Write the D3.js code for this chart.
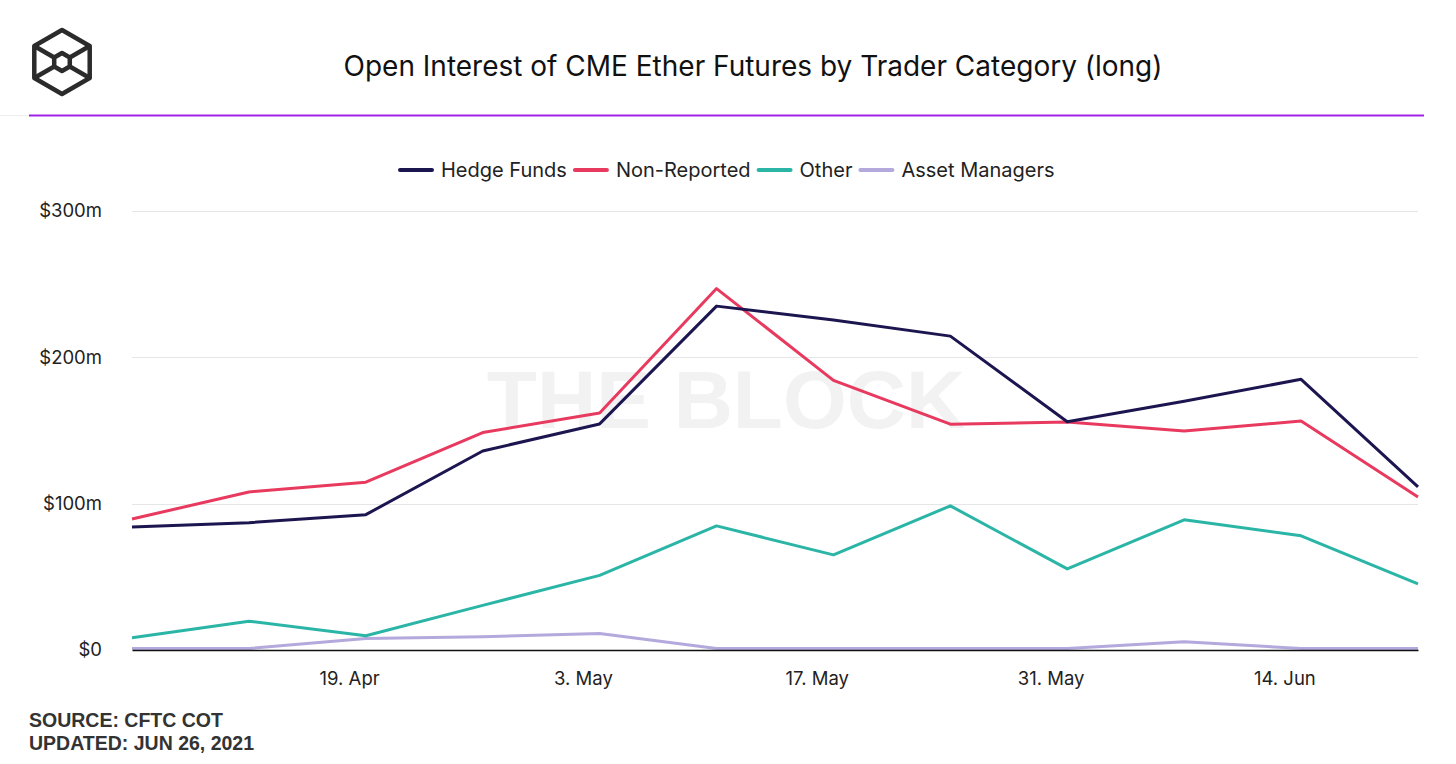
<!DOCTYPE html>
<html>
<head>
<meta charset="utf-8">
<script src="https://cdn.jsdelivr.net/npm/d3@7"></script>
<style>
  body { margin: 0; background: #fff; }
  svg { display: block; font-family: Inter, "Noto Sans", sans-serif; }
</style>
</head>
<body>
<svg id="chart" width="1456" height="764"></svg>
<script>
// weekly CFTC report dates (Tuesdays)
var dates = ["2021-04-06", "2021-04-13", "2021-04-20", "2021-04-27", "2021-05-04", "2021-05-11",
             "2021-05-18", "2021-05-25", "2021-06-01", "2021-06-08", "2021-06-15", "2021-06-22"];

// $m
var hedgeFunds    = [84, 87, 92.5, 136, 154.5, 235, 225.5, 214.5, 156, 170, 185, 111.5];
var nonReported   = [89.5, 108, 114.7, 148.6, 162, 247, 184.3, 154.3, 155.8, 149.7, 156.5, 104.6];
var other         = [8.3, 19.7, 9.7, 30.5, 51, 84.8, 65, 98.5, 55.4, 89, 78, 45.2];
var assetManagers = [1, 1, 7.9, 9, 11.3, 1, 1, 1, 1, 5.7, 1, 1];

var seriesNames  = ["Hedge Funds", "Non-Reported", "Other", "Asset Managers"];
var seriesColors = ["#1c1650", "#e83a5f", "#2bb5a6", "#b4a9dc"];
var yTicks = [0, 100, 200, 300];
var xTicks = ["2021-04-19", "2021-05-03", "2021-05-17", "2021-05-31", "2021-06-14"];

var svg = d3.select("#chart");
var W = 1456, H = 764;
var margin = {left: 132, right: 38, top: 211, bottom: 114};

var parse = d3.utcParse("%Y-%m-%d");
var x = d3.scaleUtc()
    .domain([parse(dates[0]), parse(dates[dates.length - 1])])
    .range([margin.left, W - margin.right]);
var y = d3.scaleLinear()
    .domain([0, 300])
    .range([H - margin.bottom, margin.top]);

// logo
var logo = svg.append("g")
    .attr("fill", "none")
    .attr("stroke", "#2b2b2b")
    .attr("stroke-width", 4.5)
    .attr("stroke-linejoin", "round");
function hex(cx, cy, r) {
    return d3.range(6).map(function(i) {
        var a = Math.PI / 180 * (60 * i - 90);
        return [cx + r * Math.cos(a), cy + r * Math.sin(a)];
    });
}
var outer = hex(62, 62, 32), inner = hex(62, 62, 9);
logo.append("path").attr("d", "M" + outer.join("L") + "Z");
logo.append("path").attr("d", "M" + inner.join("L") + "Z");
[1, 2, 4, 5].forEach(function(i) {
    logo.append("line")
        .attr("x1", outer[i][0]).attr("y1", outer[i][1])
        .attr("x2", inner[i][0]).attr("y2", inner[i][1]);
});

// title
svg.append("text")
    .attr("x", 753).attr("y", 76)
    .attr("text-anchor", "middle")
    .attr("font-size", 28)
    .attr("fill", "#111")
    .text("Open Interest of CME Ether Futures by Trader Category (long)");

svg.append("line")
    .attr("x1", 0).attr("x2", 29).attr("y1", 115.5).attr("y2", 115.5)
    .attr("stroke", "#eee").attr("stroke-width", 1);
svg.append("line")
    .attr("x1", 29).attr("x2", 1424).attr("y1", 115.5).attr("y2", 115.5)
    .attr("stroke", "#9f22e6").attr("stroke-width", 2);

// watermark
svg.append("text")
    .attr("x", 726).attr("y", 428)
    .attr("text-anchor", "middle")
    .attr("font-family", "'Liberation Sans', Arial, sans-serif")
    .attr("font-weight", "bold")
    .attr("font-size", 82)
    .attr("fill", "#f2f2f2")
    .text("THE BLOCK");

// grid
svg.append("g")
    .selectAll("line")
    .data(yTicks.filter(function(d) { return d > 0; }))
    .join("line")
    .attr("x1", margin.left).attr("x2", W - margin.right)
    .attr("y1", function(d) { return Math.round(y(d)) + 0.5; })
    .attr("y2", function(d) { return Math.round(y(d)) + 0.5; })
    .attr("stroke", "#e6e6e6");

// y axis labels
var yAxis = svg.append("g")
    .attr("transform", "translate(" + margin.left + ",0)")
    .call(d3.axisLeft(y).tickValues(yTicks).tickSize(0).tickPadding(30)
        .tickFormat(function(d) { return "$" + d + (d ? "m" : ""); }));
yAxis.select(".domain").remove();
yAxis.selectAll("text")
    .attr("font-family", "Inter, 'Noto Sans', sans-serif")
    .attr("font-size", 18.5)
    .attr("fill", "#222");

// lines
var line = d3.line()
    .x(function(d, i) { return x(parse(dates[i])); })
    .y(function(d) { return y(d); });

var allSeries = [hedgeFunds, nonReported, other, assetManagers];
svg.append("g")
    .selectAll("path")
    .data(allSeries.slice().reverse())
    .join("path")
    .attr("fill", "none")
    .attr("stroke", function(d, i) { return seriesColors[3 - i]; })
    .attr("stroke-width", 3)
    .attr("stroke-linejoin", "round")
    .attr("d", line);

// x axis
var xAxis = svg.append("g")
    .attr("transform", "translate(0," + y(0) + ")")
    .call(d3.axisBottom(x).tickValues(xTicks.map(parse)).tickSize(0).tickPadding(22)
        .tickFormat(d3.utcFormat("%-d. %b")));
xAxis.select(".domain").attr("stroke", "#111").attr("stroke-width", 1.5);
xAxis.selectAll("text")
    .attr("font-family", "Inter, 'Noto Sans', sans-serif")
    .attr("font-size", 18.5)
    .attr("fill", "#222");

// legend
var legend = svg.append("g");
var lx = 400;
seriesNames.forEach(function(name, i) {
    var g = legend.append("g").attr("transform", "translate(" + lx + ",168)");
    g.append("line")
        .attr("x1", 0).attr("x2", 32).attr("y1", 2).attr("y2", 2)
        .attr("stroke", seriesColors[i]).attr("stroke-width", 4)
        .attr("stroke-linecap", "round");
    var t = g.append("text")
        .attr("x", 41).attr("y", 8.5)
        .attr("font-size", 20)
        .attr("fill", "#222")
        .text(name);
    lx += 41 + t.node().getComputedTextLength() + 8;
});

// source
var src = svg.append("g")
    .attr("font-family", "'Liberation Sans', Arial, sans-serif")
    .attr("font-weight", "bold")
    .attr("font-size", 19.5)
    .attr("fill", "#333");
src.append("text").attr("x", 29).attr("y", 727).text("SOURCE: CFTC COT");
src.append("text").attr("x", 29).attr("y", 750).text("UPDATED: JUN 26, 2021");
</script>
</body>
</html>
